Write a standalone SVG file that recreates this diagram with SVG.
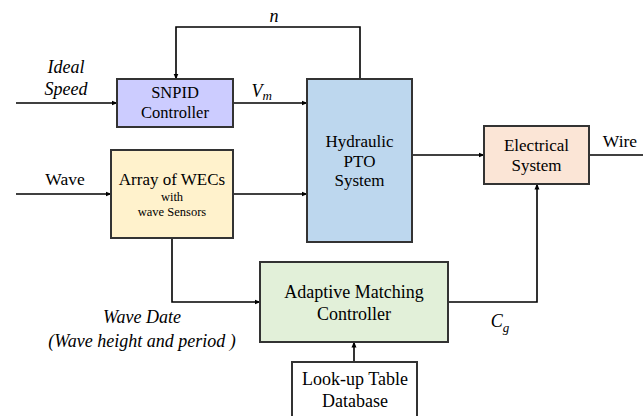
<svg xmlns="http://www.w3.org/2000/svg" width="643" height="416" viewBox="0 0 643 416">
  <defs>
    <marker id="arrow" markerWidth="6" markerHeight="6" refX="5.5" refY="3" orient="auto" markerUnits="userSpaceOnUse">
      <path d="M0,0.5 L6,3 L0,5.5 Z" fill="#000"/>
    </marker>
  </defs>
  <rect width="643" height="416" fill="#fff"/>

  <!-- connectors -->
  <g id="connectors" fill="none" stroke="#000" stroke-width="1.6">
    <path d="M16,103 H117" marker-end="url(#arrow)"/>
    <path d="M233,103 H307" marker-end="url(#arrow)"/>
    <path d="M360,79 V27 H176 V79" marker-end="url(#arrow)"/>
    <path d="M16,194 H111" marker-end="url(#arrow)"/>
    <path d="M233,194 H307" marker-end="url(#arrow)"/>
    <path d="M412,155 H484" marker-end="url(#arrow)"/>
    <path d="M589,155 H643"/>
    <path d="M172,238 V302 H260" marker-end="url(#arrow)"/>
    <path d="M448,302 H537 V184" marker-end="url(#arrow)"/>
    <path d="M354,362 V342" marker-end="url(#arrow)"/>
  </g>

  <!-- signal labels -->
  <g id="labels" fill="#000">
    <text x="66" y="73" text-anchor="middle" font-family="Liberation Serif" style="font-family: 'Liberation Serif', serif !important; font-style: italic; font-size: 18px">Ideal</text>
    <text x="66" y="95" text-anchor="middle" font-family="Liberation Serif" style="font-family: 'Liberation Serif', serif !important; font-style: italic; font-size: 18px">Speed</text>
    <text x="274" y="22" text-anchor="middle" font-family="Liberation Serif" style="font-family: 'Liberation Serif', serif !important; font-style: italic; font-size: 18px">n</text>
    <text x="272" y="97" text-anchor="end" font-family="Liberation Serif" style="font-family: 'Liberation Serif', serif !important; font-style: italic; font-size: 18px">V<tspan font-size="13" dy="3">m</tspan></text>
    <text x="65" y="185" text-anchor="middle" font-family="Liberation Serif" style="font-family: 'Liberation Serif', serif !important; font-size: 17.5px">Wave</text>
    <text x="620" y="147" text-anchor="middle" font-family="Liberation Serif" style="font-family: 'Liberation Serif', serif !important; font-size: 17.5px">Wire</text>
    <text x="142" y="323" text-anchor="middle" font-family="Liberation Serif" style="font-family: 'Liberation Serif', serif !important; font-style: italic; font-size: 18px">Wave Date</text>
    <text x="142" y="347" text-anchor="middle" font-family="Liberation Serif" style="font-family: 'Liberation Serif', serif !important; font-style: italic; font-size: 18px">(Wave height and period )</text>
    <text x="500" y="327" text-anchor="middle" font-family="Liberation Serif" style="font-family: 'Liberation Serif', serif !important; font-style: italic; font-size: 18px">C<tspan font-size="13" dy="5">g</tspan></text>
  </g>

  <g id="snpid">
    <rect x="117" y="79" width="116" height="48" fill="#ccccff" stroke="#333" stroke-width="2"/>
    <text x="175" y="98" text-anchor="middle" font-family="Liberation Serif" style="font-family: 'Liberation Serif', serif !important; font-size: 16.5px">SNPID</text>
    <text x="175" y="118" text-anchor="middle" font-family="Liberation Serif" style="font-family: 'Liberation Serif', serif !important; font-size: 16.5px">Controller</text>
  </g>

  <g id="hydraulic">
    <rect x="307" y="79" width="105" height="163" fill="#bdd7ee" stroke="#333" stroke-width="2"/>
    <text x="359.5" y="147" text-anchor="middle" font-family="Liberation Serif" style="font-family: 'Liberation Serif', serif !important; font-size: 17px">Hydraulic</text>
    <text x="359.5" y="167" text-anchor="middle" font-family="Liberation Serif" style="font-family: 'Liberation Serif', serif !important; font-size: 17px">PTO</text>
    <text x="359.5" y="186" text-anchor="middle" font-family="Liberation Serif" style="font-family: 'Liberation Serif', serif !important; font-size: 17px">System</text>
  </g>

  <g id="array">
    <rect x="111" y="150" width="122" height="88" fill="#fff2cc" stroke="#333" stroke-width="2"/>
    <text x="172" y="185" text-anchor="middle" font-family="Liberation Serif" style="font-family: 'Liberation Serif', serif !important; font-size: 17px">Array of WECs</text>
    <text x="172" y="201" text-anchor="middle" font-family="Liberation Serif" style="font-family: 'Liberation Serif', serif !important; font-size: 12.5px">with</text>
    <text x="172" y="216" text-anchor="middle" font-family="Liberation Serif" style="font-family: 'Liberation Serif', serif !important; font-size: 12.5px">wave Sensors</text>
  </g>

  <g id="electrical">
    <rect x="484" y="126" width="105" height="58" fill="#fbe5d6" stroke="#333" stroke-width="2"/>
    <text x="536.5" y="151" text-anchor="middle" font-family="Liberation Serif" style="font-family: 'Liberation Serif', serif !important; font-size: 17px">Electrical</text>
    <text x="536.5" y="171" text-anchor="middle" font-family="Liberation Serif" style="font-family: 'Liberation Serif', serif !important; font-size: 17px">System</text>
  </g>

  <g id="adaptive">
    <rect x="260" y="262" width="188" height="80" fill="#e2f0d9" stroke="#333" stroke-width="2"/>
    <text x="354" y="298" text-anchor="middle" font-family="Liberation Serif" style="font-family: 'Liberation Serif', serif !important; font-size: 18px">Adaptive Matching</text>
    <text x="354" y="320" text-anchor="middle" font-family="Liberation Serif" style="font-family: 'Liberation Serif', serif !important; font-size: 18px">Controller</text>
  </g>

  <g id="lookup">
    <rect x="292" y="362" width="125" height="60" fill="#fff" stroke="#333" stroke-width="2"/>
    <text x="355" y="385" text-anchor="middle" font-family="Liberation Serif" style="font-family: 'Liberation Serif', serif !important; font-size: 18px">Look-up Table</text>
    <text x="355" y="407" text-anchor="middle" font-family="Liberation Serif" style="font-family: 'Liberation Serif', serif !important; font-size: 18px">Database</text>
  </g>
</svg>
